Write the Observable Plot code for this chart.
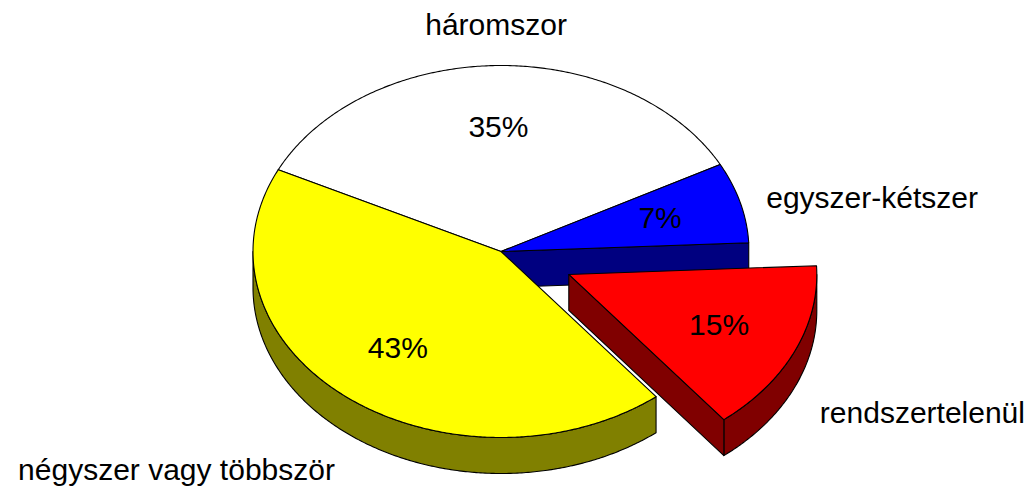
<!DOCTYPE html>
<html>
<head>
<meta charset="utf-8">
<script src="https://cdn.jsdelivr.net/npm/d3@7"></script>
<script src="https://cdn.jsdelivr.net/npm/@observablehq/plot@0.6"></script>
<style>
  html, body { margin: 0; padding: 0; background: #ffffff; }
</style>
</head>
<body>
<div id="chart"></div>
<script>
// ---- data ----
const categories = ["háromszor", "egyszer-kétszer", "rendszertelenül", "négyszer vagy többször"];
const shares = [35, 7, 15, 43];
const percentLabels = ["35%", "7%", "15%", "43%"];
const topColors = ["#ffffff", "#0000ff", "#ff0000", "#ffff00"];
const sideColors = ["#bfbfbf", "#000080", "#800000", "#808000"];

// ---- layout ----
const W = 1031, H = 489;
const geo = {cx: 500.5, cy: 251, rx: 248, ry: 186, depth: 36, startDeg: 296.1,
             explodeCategory: "rendszertelenül", explode: 0.3, pctRadius: 0.665};
const labelNudge = {
  "háromszor": {dx: -1, dy: -40, anchor: "middle"},
  "egyszer-kétszer": {dx: 26, dy: -4, anchor: "start"},
  "rendszertelenül": {dx: 25, dy: 62, anchor: "start"},
  "négyszer vagy többször": {dx: -11, dy: 74, anchor: "end"}
};
const FONT = "'Liberation Sans', Arial, Helvetica, sans-serif";
const FS = 30;

const rad = d => d * Math.PI / 180;
const total = d3.sum(shares);
let acc = geo.startDeg;
const slices = categories.map((c, i) => {
  const a0 = acc, a1 = acc + shares[i] / total * 360;
  acc = a1;
  const m = (a0 + a1) / 2;
  const e = c === geo.explodeCategory ? geo.explode : 0;
  return {c, i, a0, a1, m, exploded: e > 0,
          ox: e * geo.rx * Math.sin(rad(m)), oy: -e * geo.ry * Math.cos(rad(m))};
});

const pt = (s, deg, k = 1, z = 0) => ({
  x: geo.cx + s.ox + k * geo.rx * Math.sin(rad(deg)),
  y: geo.cy + s.oy - k * geo.ry * Math.cos(rad(deg)) + z
});
const apex = (s, z = 0) => ({x: geo.cx + s.ox, y: geo.cy + s.oy + z});
const arc = (s, from, to, z = 0) => {
  const n = Math.max(2, Math.ceil(Math.abs(to - from) / 0.5));
  return d3.range(n + 1).map(j => pt(s, from + (to - from) * j / n, 1, z));
};

// polygons
function sidePolys(s) {
  const out = [];
  const D = geo.depth;
  // outer wall: visible where facing front (90..270 mod 360)
  for (const [lo, hi] of [[90, 270], [450, 630]]) {
    const a = Math.max(s.a0, lo), b = Math.min(s.a1, hi);
    if (b > a) out.push({fill: sideColors[s.i], points: [...arc(s, a, b, 0), ...arc(s, b, a, D)]});
  }
  const prev = slices[(s.i + slices.length - 1) % slices.length];
  const next = slices[(s.i + 1) % slices.length];
  // radial face at a0 (visible when facing front and a neighbour is separated)
  if (Math.sin(rad(s.a0)) < 0 && (s.exploded || prev.exploded))
    out.push({fill: sideColors[s.i], points: [apex(s), pt(s, s.a0), pt(s, s.a0, 1, D), apex(s, D)]});
  if (Math.sin(rad(s.a1)) > 0 && (s.exploded || next.exploded))
    out.push({fill: sideColors[s.i], points: [apex(s), pt(s, s.a1), pt(s, s.a1, 1, D), apex(s, D)]});
  return out;
}
const topPoly = s => ({fill: topColors[s.i], points: [apex(s), ...arc(s, s.a0, s.a1, 0)]});

const mainSlices = slices.filter(s => !s.exploded);
const expSlices = slices.filter(s => s.exploded);
const polys = [
  ...mainSlices.flatMap(sidePolys),
  ...mainSlices.map(topPoly),
  ...expSlices.flatMap(sidePolys),
  ...expSlices.map(topPoly)
];

const polyMarks = polys.map(p => Plot.line(p.points, {
  x: "x", y: "y", fill: p.fill, stroke: "#000000", strokeWidth: 1.1,
  curve: "linear-closed", strokeLinejoin: "round"
}));

const pctData = slices.map(s => ({...pt(s, s.m, geo.pctRadius), t: percentLabels[s.i]}));
const pctMark = Plot.text(pctData, {x: "x", y: "y", text: "t", fontSize: FS, fontFamily: FONT, fill: "#000000", textAnchor: "middle"});

const catMarks = slices.map(s => {
  const n = labelNudge[s.c];
  return Plot.text([{...pt(s, s.m, 1), t: s.c}], {
    x: "x", y: "y", text: "t", dx: n.dx, dy: n.dy, textAnchor: n.anchor,
    fontSize: FS, fontFamily: FONT, fill: "#000000"
  });
});

const chart = Plot.plot({
  width: W, height: H, margin: 0,
  x: {domain: [0, W], range: [0, W], axis: null},
  y: {domain: [0, H], range: [0, H], axis: null},
  style: {background: "#ffffff", fontFamily: FONT, overflow: "visible"},
  marks: [...polyMarks, pctMark, ...catMarks]
});
document.getElementById("chart").appendChild(chart);
</script>
</body>
</html>
